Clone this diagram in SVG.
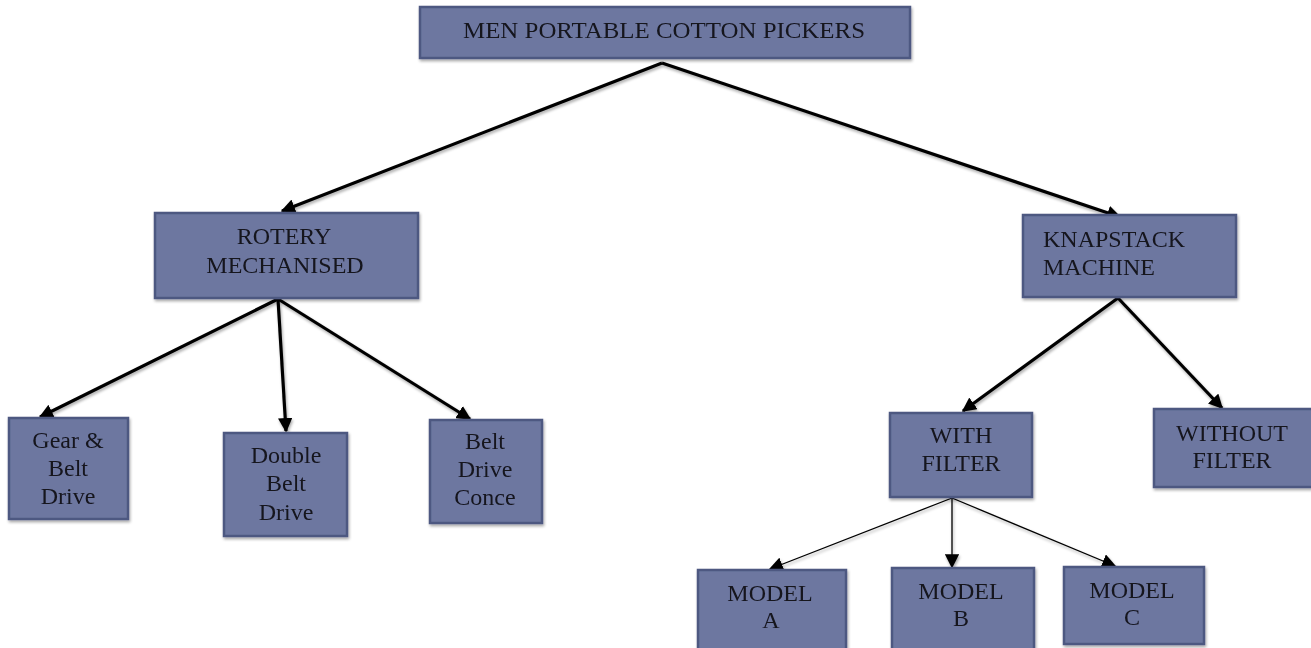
<svg xmlns="http://www.w3.org/2000/svg" width="1311" height="648" viewBox="0 0 1311 648">
<defs>
<marker id="ah" viewBox="0 0 10 10" refX="9" refY="5" markerWidth="4.5" markerHeight="4.5" orient="auto" markerUnits="strokeWidth"><path d="M0,0 L10,5 L0,10 z" fill="#000"/></marker>
<marker id="ahs" viewBox="0 0 10 10" refX="9" refY="5" markerWidth="11" markerHeight="11" orient="auto" markerUnits="strokeWidth"><path d="M0,0 L10,5 L0,10 z" fill="#000"/></marker>
<filter id="sh" x="-10%" y="-10%" width="130%" height="130%"><feGaussianBlur in="SourceAlpha" stdDeviation="1.5"/><feOffset dx="1" dy="2" result="b"/><feComponentTransfer><feFuncA type="linear" slope="0.35"/></feComponentTransfer><feMerge><feMergeNode/><feMergeNode in="SourceGraphic"/></feMerge></filter>
</defs>
<style>
.box{fill:#6d77a0;stroke:#4e5881;stroke-width:2.5}
.t{font-family:"Liberation Serif","Times New Roman",serif;font-size:24px;fill:#15151f;text-anchor:middle}
.tl{text-anchor:start}
.thick{stroke:#000;stroke-width:3.2;fill:none;marker-end:url(#ah)}
.thin{stroke:#000;stroke-width:1.3;fill:none;marker-end:url(#ahs)}
</style>
<rect width="1311" height="648" fill="#fff"/>
<g id="connectors" filter="url(#sh)">
<path class="thick" d="M662,63 L282,211"/>
<path class="thick" d="M662,63 L1120,217"/>
<path class="thick" d="M278,299 L40,417"/>
<path class="thick" d="M278,299 L286,431"/>
<path class="thick" d="M278,299 L470,419"/>
<path class="thick" d="M1118,298 L963,411"/>
<path class="thick" d="M1118,298 L1222,408"/>
<path class="thin" d="M952,498 L770,569"/>
<path class="thin" d="M952,498 L952,567"/>
<path class="thin" d="M952,498 L1115,566"/>
</g>
<g id="n-root" filter="url(#sh)"><rect class="box" x="420" y="7" width="490" height="51"/><text class="t" x="664" y="38" textLength="402" lengthAdjust="spacingAndGlyphs">MEN PORTABLE COTTON PICKERS</text></g>
<g id="n-rotery" filter="url(#sh)"><rect class="box" x="155" y="213" width="263" height="85"/><text class="t" x="284" y="244">ROTERY</text><text class="t" x="285" y="273">MECHANISED</text></g>
<g id="n-knap" filter="url(#sh)"><rect class="box" x="1023" y="215" width="213" height="82"/><text class="t tl" x="1043" y="247">KNAPSTACK</text><text class="t tl" x="1043" y="275">MACHINE</text></g>
<g id="n-gear" filter="url(#sh)"><rect class="box" x="9" y="418" width="119" height="101"/><text class="t" x="68" y="448">Gear &amp;</text><text class="t" x="68" y="476">Belt</text><text class="t" x="68" y="504">Drive</text></g>
<g id="n-double" filter="url(#sh)"><rect class="box" x="224" y="433" width="123" height="103"/><text class="t" x="286" y="463">Double</text><text class="t" x="286" y="491">Belt</text><text class="t" x="286" y="520">Drive</text></g>
<g id="n-conce" filter="url(#sh)"><rect class="box" x="430" y="420" width="112" height="103"/><text class="t" x="485" y="449">Belt</text><text class="t" x="485" y="477">Drive</text><text class="t" x="485" y="505">Conce</text></g>
<g id="n-with" filter="url(#sh)"><rect class="box" x="890" y="413" width="142" height="84"/><text class="t" x="961" y="443">WITH</text><text class="t" x="961" y="471">FILTER</text></g>
<g id="n-without" filter="url(#sh)"><rect class="box" x="1154" y="409" width="160" height="78"/><text class="t" x="1232" y="441">WITHOUT</text><text class="t" x="1232" y="468">FILTER</text></g>
<g id="n-a" filter="url(#sh)"><rect class="box" x="698" y="570" width="148" height="80"/><text class="t" x="770" y="601">MODEL</text><text class="t" x="771" y="628">A</text></g>
<g id="n-b" filter="url(#sh)"><rect class="box" x="892" y="568" width="142" height="82"/><text class="t" x="961" y="599">MODEL</text><text class="t" x="961" y="626">B</text></g>
<g id="n-c" filter="url(#sh)"><rect class="box" x="1064" y="567" width="140" height="77"/><text class="t" x="1132" y="598">MODEL</text><text class="t" x="1132" y="625">C</text></g>
</svg>
